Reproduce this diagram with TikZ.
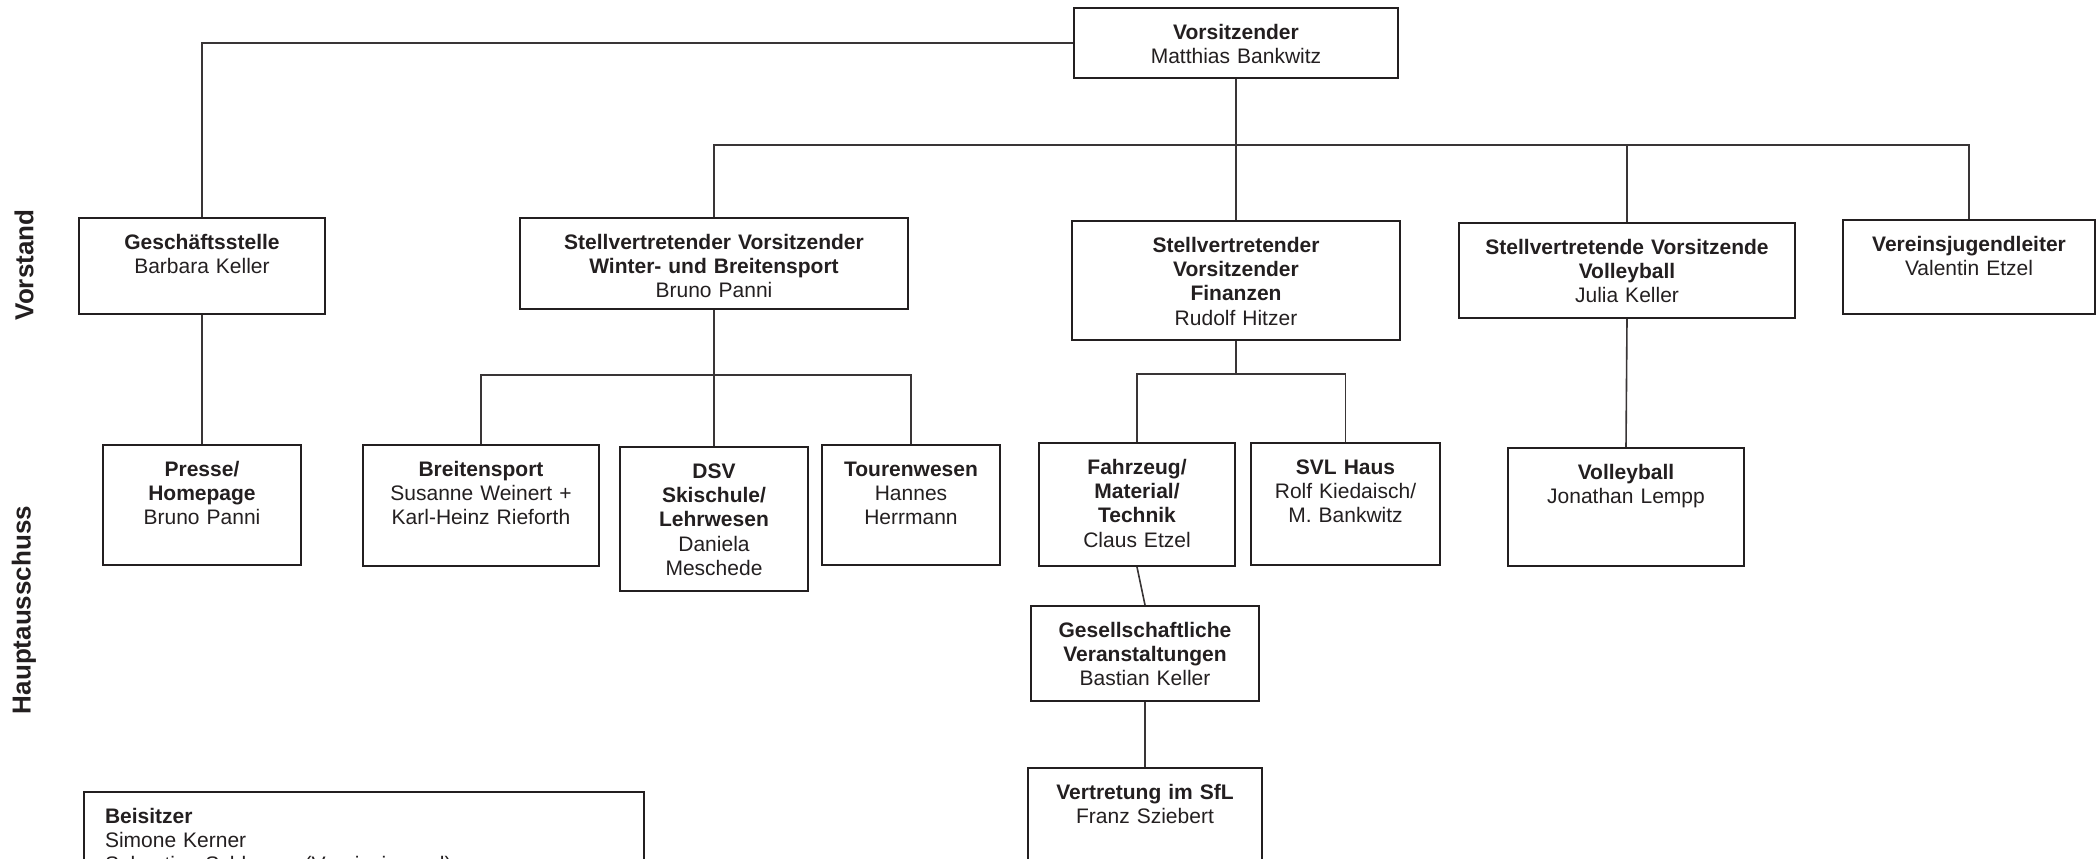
\documentclass[tikz,border=0pt]{standalone}
\usepackage{fontspec}
\setmainfont{Liberation Sans}
\usepackage[HTML]{xcolor}
\usepackage{tikz}

\definecolor{ink}{HTML}{231F20}

\tikzset{
  unit/.style={draw=ink, line width=1pt, anchor=north west, inner sep=0pt,
    align=center, text=ink, text height=15.5pt,
    font=\fontsize{10.5}{12.2}\selectfont},
  link/.style={draw=ink!90, line width=0.8pt},
  side/.style={rotate=90, text=ink, font=\bfseries\fontsize{13}{15}\selectfont}
}

\begin{document}
\begin{tikzpicture}[x=0.5pt, y=-0.5pt]
\fill[white, use as bounding box] (0,0) rectangle (2100,858);

% Row labels
\node[side] (vorstand) at (24,265) {Vorstand};
\node[side] (haupt) at (24,610) {Hauptausschuss};

% Vorstand
\node[unit, text width=162pt, text depth=19.5pt] (vors) at (1073,7) {\textbf{Vorsitzender}\\Matthias Bankwitz};
\node[unit, text width=123pt, text depth=32.5pt] (gs) at (78,217) {\textbf{Geschäftsstelle}\\Barbara Keller};
\node[unit, text width=194pt, text depth=30pt] (winter) at (519,217) {\textbf{Stellvertretender Vorsitzender}\\\textbf{Winter- und Breitensport}\\Bruno Panni};
\node[unit, text width=164pt, text depth=44pt] (fin) at (1071,220) {\textbf{Stellvertretender}\\\textbf{Vorsitzender}\\\textbf{Finanzen}\\Rudolf Hitzer};
\node[unit, text width=168pt, text depth=32pt] (vvb) at (1458,222) {\textbf{Stellvertretende Vorsitzende}\\\textbf{Volleyball}\\Julia Keller};
\node[unit, text width=126pt, text depth=31.5pt] (vjl) at (1842,219) {\textbf{Vereinsjugendleiter}\\Valentin Etzel};

% Hauptausschuss
\node[unit, text width=99pt, text depth=44.5pt] (presse) at (102,444) {\textbf{Presse/}\\\textbf{Homepage}\\Bruno Panni};
\node[unit, text width=118pt, text depth=45pt] (breit) at (362,444) {\textbf{Breitensport}\\Susanne Weinert +\\Karl-Heinz Rieforth};
\node[unit, text width=94pt, text depth=56.5pt] (dsv) at (619,446) {\textbf{DSV}\\\textbf{Skischule/}\\\textbf{Lehrwesen}\\Daniela\\Meschede};
\node[unit, text width=89pt, text depth=44.5pt] (tour) at (821,444) {\textbf{Tourenwesen}\\Hannes\\Herrmann};
\node[unit, text width=98pt, text depth=46pt] (fahr) at (1038,442) {\textbf{Fahrzeug/}\\\textbf{Material/}\\\textbf{Technik}\\Claus Etzel};
\node[unit, text width=94.5pt, text depth=45.5pt] (svl) at (1250,442) {\textbf{SVL Haus}\\Rolf Kiedaisch/\\M. Bankwitz};
\node[unit, text width=118pt, text depth=43.5pt] (vb) at (1507,447) {\textbf{Volleyball}\\Jonathan Lempp};
\node[unit, text width=114pt, text depth=32pt] (ges) at (1030,605) {\textbf{Gesellschaftliche}\\\textbf{Veranstaltungen}\\Bastian Keller};
\node[unit, text width=117pt, text depth=50pt] (sfl) at (1027,767) {\textbf{Vertretung im SfL}\\Franz Sziebert};

% Beisitzer
\node[unit, align=left, inner xsep=10.5pt, text width=259pt, text depth=84.5pt] (beis) at (83,791) {\textbf{Beisitzer}\\Simone Kerner\\Sebastian Schlosser (Vereinsjugend)};

% Connectors
\coordinate (bus) at (0,145);
\coordinate (wsub) at (0,375);
\coordinate (fsub) at (0,374);
\draw[link] (vors.west) -| (gs.north);
\draw[link] (vors.south) -- (fin.north);
\draw[link] (winter.north) -- (winter.north |- bus) -- (vjl.north |- bus) -- (vjl.north);
\draw[link] (vvb.north) -- (vvb.north |- bus);
\draw[link] (gs.south) -- (presse.north);
\draw[link] (winter.south) -- (dsv.north);
\draw[link] (breit.north) -- (breit.north |- wsub) -- (tour.north |- wsub) -- (tour.north);
\draw[link] (fin.south) -- (fin.south |- fsub);
\draw[link] (fahr.north) -- (fahr.north |- fsub) -- (svl.north |- fsub) -- (svl.north);
\draw[link] (fahr.south) -- (ges.north);
\draw[link] (ges.south) -- (sfl.north);
\draw[link] (vvb.south) -- (vb.north);
\end{tikzpicture}
\end{document}
